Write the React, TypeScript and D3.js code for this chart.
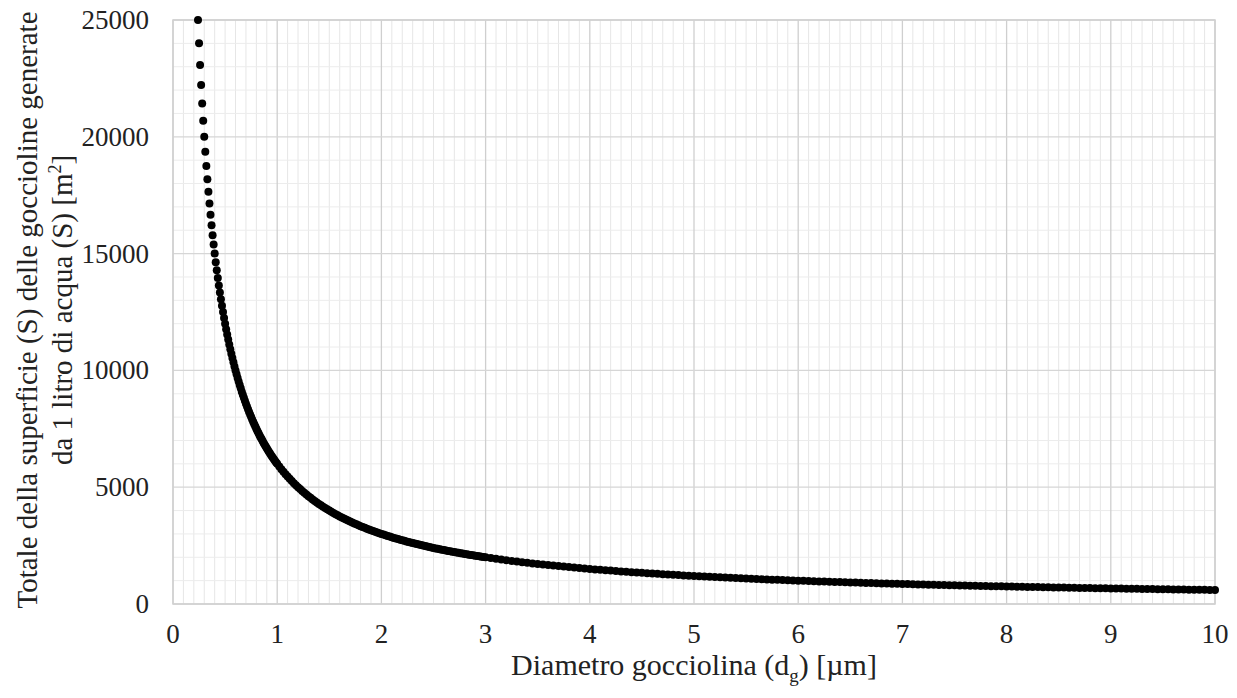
import React from "react";
import * as d3 from "d3";

// Droplet diameter d_g [µm]
const diamA = [0.24,0.25,0.26,0.27,0.28,0.29,0.30,0.31,0.32,0.33,0.34,0.35,0.36,0.37,0.38,0.39,0.40,0.41,0.42,0.43,0.44,0.45,0.46,0.47,0.48,0.49,0.50,0.51,0.52,0.53,0.54,0.55,0.56,0.57,0.58,0.59,0.60,0.61,0.62,0.63,0.64,0.65,0.66,0.67,0.68,0.69,0.70,0.71,0.72,0.73,0.74,0.75,0.76,0.77,0.78,0.79,0.80,0.81,0.82,0.83,0.84,0.85,0.86,0.87,0.88,0.89,0.90,0.91,0.92,0.93,0.94,0.95,0.96,0.97,0.98,0.99,1.00];
const surfA = [25000,24000,23077,22222,21429,20690,20000,19355,18750,18182,17647,17143,16667,16216,15789,15385,15000,14634,14286,13953,13636,13333,13043,12766,12500,12245,12000,11765,11538,11321,11111,10909,10714,10526,10345,10169,10000,9836,9677,9524,9375,9231,9091,8955,8824,8696,8571,8451,8333,8219,8108,8000,7895,7792,7692,7595,7500,7407,7317,7229,7143,7059,6977,6897,6818,6742,6667,6593,6522,6452,6383,6316,6250,6186,6122,6061,6000];

const diamB = [1.02,1.04,1.06,1.08,1.10,1.12,1.14,1.16,1.18,1.20,1.22,1.24,1.26,1.28,1.30,1.32,1.34,1.36,1.38,1.40,1.42,1.44,1.46,1.48,1.50,1.52,1.54,1.56,1.58,1.60,1.62,1.64,1.66,1.68,1.70,1.72,1.74,1.76,1.78,1.80,1.82,1.84,1.86,1.88,1.90,1.92,1.94,1.96,1.98,2.00,2.02,2.04,2.06,2.08,2.10,2.12,2.14,2.16,2.18,2.20,2.22,2.24,2.26,2.28,2.30,2.32,2.34,2.36,2.38,2.40,2.42,2.44,2.46,2.48,2.50,2.52,2.54,2.56,2.58,2.60,2.62,2.64,2.66,2.68,2.70,2.72,2.74,2.76,2.78,2.80,2.82,2.84,2.86,2.88,2.90,2.92,2.94,2.96,2.98,3.00];
const surfB = [5882,5769,5660,5556,5455,5357,5263,5172,5085,5000,4918,4839,4762,4688,4615,4545,4478,4412,4348,4286,4225,4167,4110,4054,4000,3947,3896,3846,3797,3750,3704,3659,3614,3571,3529,3488,3448,3409,3371,3333,3297,3261,3226,3191,3158,3125,3093,3061,3030,3000,2970,2941,2913,2885,2857,2830,2804,2778,2752,2727,2703,2679,2655,2632,2609,2586,2564,2542,2521,2500,2479,2459,2439,2419,2400,2381,2362,2344,2326,2308,2290,2273,2256,2239,2222,2206,2190,2174,2158,2143,2128,2113,2098,2083,2069,2055,2041,2027,2013,2000];

const diamC = [3.05,3.10,3.15,3.20,3.25,3.30,3.35,3.40,3.45,3.50,3.55,3.60,3.65,3.70,3.75,3.80,3.85,3.90,3.95,4.00,4.05,4.10,4.15,4.20,4.25,4.30,4.35,4.40,4.45,4.50,4.55,4.60,4.65,4.70,4.75,4.80,4.85,4.90,4.95,5.00,5.05,5.10,5.15,5.20,5.25,5.30,5.35,5.40,5.45,5.50,5.55,5.60,5.65,5.70,5.75,5.80,5.85,5.90,5.95,6.00,6.05,6.10,6.15,6.20,6.25,6.30,6.35,6.40,6.45,6.50,6.55,6.60,6.65,6.70,6.75,6.80,6.85,6.90,6.95,7.00,7.05,7.10,7.15,7.20,7.25,7.30,7.35,7.40,7.45,7.50,7.55,7.60,7.65,7.70,7.75,7.80,7.85,7.90,7.95,8.00,8.05,8.10,8.15,8.20,8.25,8.30,8.35,8.40,8.45,8.50,8.55,8.60,8.65,8.70,8.75,8.80,8.85,8.90,8.95,9.00,9.05,9.10,9.15,9.20,9.25,9.30,9.35,9.40,9.45,9.50,9.55,9.60,9.65,9.70,9.75,9.80,9.85,9.90,9.95,10.00];
const surfC = [1967,1935,1905,1875,1846,1818,1791,1765,1739,1714,1690,1667,1644,1622,1600,1579,1558,1538,1519,1500,1481,1463,1446,1429,1412,1395,1379,1364,1348,1333,1319,1304,1290,1277,1263,1250,1237,1224,1212,1200,1188,1176,1165,1154,1143,1132,1121,1111,1101,1091,1081,1071,1062,1053,1043,1034,1026,1017,1008,1000,992,984,976,968,960,952,945,938,930,923,916,909,902,896,889,882,876,870,863,857,851,845,839,833,828,822,816,811,805,800,795,789,784,779,774,769,764,759,755,750,745,741,736,732,727,723,719,714,710,706,702,698,694,690,686,682,678,674,670,667,663,659,656,652,649,645,642,638,635,632,628,625,622,619,615,612,609,606,603,600];

const xTicks = [0,1,2,3,4,5,6,7,8,9,10];
const yTicks = [0,5000,10000,15000,20000,25000];

const W = 1237;
const H = 698;
const serif = "Liberation Serif, DejaVu Serif, Times New Roman, serif";

export default function App() {
  const x = d3.scaleLinear().domain([0, 10]).range([173, 1215]);
  const y = d3.scaleLinear().domain([0, 25000]).range([604, 20]);

  const points: [number, number][] = [];
  [[diamA, surfA], [diamB, surfB], [diamC, surfC]].forEach(([ds, ss]) => {
    ds.forEach((d, i) => points.push([d, ss[i]]));
  });

  const minorX = d3.range(1, 100).map((i) => i / 10).filter((v) => Math.abs(v - Math.round(v)) > 1e-6);
  const minorY = d3.range(1, 25).map((i) => i * 1000).filter((v) => v % 5000 !== 0);

  const [x0, x1] = x.range();
  const [y0, y1] = y.range();
  const txt = { fontFamily: serif, fill: "#222" } as React.CSSProperties;

  return (
    <svg width={W} height={H} style={{ position: "absolute", left: 0, top: 0, background: "#fff" }}>
      <rect x={0} y={0} width={W} height={H} fill="#fff" />
      {/* minor grid */}
      {minorX.map((v) => (
        <line key={"mx" + v} x1={x(v)} x2={x(v)} y1={y1} y2={y0} stroke="#e6e6e6" strokeWidth={1} />
      ))}
      {minorY.map((v) => (
        <line key={"my" + v} x1={x0} x2={x1} y1={y(v)} y2={y(v)} stroke="#ececec" strokeWidth={1} />
      ))}
      {/* major grid */}
      {xTicks.map((v) => (
        <line key={"Mx" + v} x1={x(v)} x2={x(v)} y1={y1} y2={y0} stroke="#cfcfcf" strokeWidth={1.3} />
      ))}
      {yTicks.map((v) => (
        <line key={"My" + v} x1={x0} x2={x1} y1={y(v)} y2={y(v)} stroke="#d6d6d6" strokeWidth={1.3} />
      ))}
      <rect x={x0} y={y1} width={x1 - x0} height={y0 - y1} fill="none" stroke="#d0d0d0" strokeWidth={1.5} />

      {/* data */}
      {points.map(([d, s], i) => (
        <circle key={i} cx={x(d)} cy={y(s)} r={4} fill="#000" />
      ))}

      {/* x tick labels */}
      {xTicks.map((v) => (
        <text key={"xt" + v} x={x(v)} y={643} textAnchor="middle" style={{ ...txt, fontSize: 27 }}>
          {v}
        </text>
      ))}
      {/* y tick labels */}
      {yTicks.map((v) => (
        <text key={"yt" + v} x={149} y={y(v) + 9} textAnchor="end" style={{ ...txt, fontSize: 27 }}>
          {v}
        </text>
      ))}

      {/* x axis title */}
      <text x={694} y={675} textAnchor="middle" style={{ ...txt, fontSize: 30 }}>
        Diametro gocciolina (d
        <tspan style={{ fontSize: 19 }} dy={7}>g</tspan>
        <tspan dy={-7}>) [µm]</tspan>
      </text>

      {/* y axis title */}
      <text transform={`translate(37,310) rotate(-90)`} textAnchor="middle" style={{ ...txt, fontSize: 29 }}>
        Totale della superficie (S) delle goccioline generate
      </text>
      <text transform={`translate(72,310) rotate(-90)`} textAnchor="middle" style={{ ...txt, fontSize: 29 }}>
        da 1 litro di acqua (S) [m
        <tspan style={{ fontSize: 18 }} dy={-11}>2</tspan>
        <tspan dy={11}>]</tspan>
      </text>
    </svg>
  );
}
